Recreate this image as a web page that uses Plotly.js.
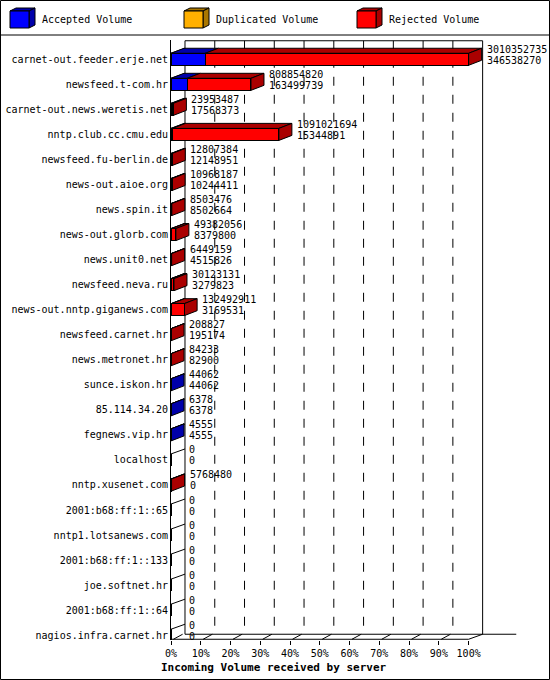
<!DOCTYPE html>
<html>
<head>
<meta charset="utf-8">
<script src="https://cdn.plot.ly/plotly-3.0.1.min.js"></script>
<style>body{margin:0;background:#fff}</style>
</head>
<body>
<div id="chart" style="width:550px;height:680px"></div>
<script>
// data
var servers = [
  'carnet-out.feeder.erje.net', 'newsfeed.t-com.hr', 'carnet-out.news.weretis.net',
  'nntp.club.cc.cmu.edu', 'newsfeed.fu-berlin.de', 'news-out.aioe.org', 'news.spin.it',
  'news-out.glorb.com', 'news.unit0.net', 'newsfeed.neva.ru', 'news-out.nntp.giganews.com',
  'newsfeed.carnet.hr', 'news.metronet.hr', 'sunce.iskon.hr', '85.114.34.20',
  'fegnews.vip.hr', 'localhost', 'nntp.xusenet.com', '2001:b68:ff:1::65',
  'nntp1.lotsanews.com', '2001:b68:ff:1::133', 'joe.softnet.hr', '2001:b68:ff:1::64',
  'nagios.infra.carnet.hr'
];
var totalVolume = [
  3010352735, 808854820, 23953487, 1091021694, 12807384, 10968187, 8503476,
  49382056, 6449159, 30123131, 132492911, 208827, 84233, 44062, 6378,
  4555, 0, 5768480, 0, 0, 0, 0, 0, 0
];
var acceptedVolume = [
  346538270, 163499739, 17568373, 15344891, 12148951, 10244411, 8502664,
  8379800, 4515826, 3279823, 3169531, 195174, 82900, 44062, 6378,
  4555, 0, 0, 0, 0, 0, 0, 0, 0
];
var duplicatedVolume = [
  0, 0, 0, 0, 0, 0, 0, 0, 0, 0, 0, 0, 0, 0, 0, 0, 0, 0, 0, 0, 0, 0, 0, 0
];
var tickPercents = [0, 10, 20, 30, 40, 50, 60, 70, 80, 90, 100];
var tickLabels = ['0%', '10%', '20%', '30%', '40%', '50%', '60%', '70%', '80%', '90%', '100%'];

// look
var FONT = 'DejaVu Sans Mono';
var colors = {
  acc: ['#0000FF', '#0000AA'],
  dup: ['#FFB000', '#AA7700'],
  rej: ['#FF0000', '#AA0000']
};
var BAR_HALF = 0.24;   // half of the front face height, in rows
var DX_BAR = 4.37;     // depth of a bar, in percent
var DX_WALL = 4.7;     // depth of the walls, in percent
var DY = 0.2;          // depth upward, in rows
var Y_TOP = -0.77, Y_BOT = 23.19, FLOOR = Y_BOT - 0.03;

var L = 171, T = 40, W = 378, H = 600;
function px(x) { return (x - L) / W; }
function py(y) { return (T + H - y) / H; }

var maxVolume = Math.max.apply(null, totalVolume);
function pct(v) { return v / maxVolume * 100; }
var rows = servers.map(function (s, i) { return i; });
var accPct = acceptedVolume.map(pct);
var dupPct = duplicatedVolume.map(pct);
var rejPct = totalVolume.map(function (t, i) {
  return pct(t - acceptedVolume[i] - duplicatedVolume[i]);
});

function bar(name, x, col) {
  return {
    type: 'bar', orientation: 'h', name: name, y: rows, x: x, width: 2 * BAR_HALF,
    marker: {color: col, line: {color: '#000', width: 1}},
    hoverinfo: 'skip'
  };
}
var traces = [
  bar('Accepted Volume', accPct, colors.acc[0]),
  bar('Duplicated Volume', dupPct, colors.dup[0]),
  bar('Rejected Volume', rejPct, colors.rej[0])
];

var shapes = [];
var blk = {color: '#000', width: 1};
function line(x0, y0, x1, y1, style) {
  shapes.push({type: 'line', xref: 'x', yref: 'y', x0: x0, y0: y0, x1: x1, y1: y1,
               line: style || blk, layer: 'below'});
}
function poly(pts, fill) {
  var d = 'M' + pts.map(function (p) { return p[0] + ',' + p[1]; }).join(' L') + ' Z';
  shapes.push({type: 'path', xref: 'x', yref: 'y', path: d, fillcolor: fill,
               line: blk, layer: 'below'});
}

// back wall, grid and floor
var backFloor = FLOOR - DY;
var wallTop = Y_TOP + 0.03;
tickPercents.slice(1, -1).forEach(function (t) {
  line(t + DX_WALL, wallTop, t + DX_WALL, backFloor, {color: '#000', width: 1, dash: 'dash'});
});
line(DX_WALL, wallTop, DX_WALL, backFloor);
line(100 + DX_WALL, wallTop, 100 + DX_WALL, backFloor);
line(DX_WALL, wallTop, 100 + DX_WALL, wallTop);
tickPercents.slice(0, -1).forEach(function (t) {
  line(t + 0.8, FLOOR, t + DX_WALL - 0.8, backFloor);
});
line(DX_WALL, backFloor, 116, backFloor);
line(0, FLOOR, 100, FLOOR);
line(100, FLOOR, 100 + DX_WALL, backFloor);

// left wall ticks
rows.forEach(function (i) {
  line(0, i - BAR_HALF, DX_WALL, i - BAR_HALF - DY);
});

// 3d faces of the bars
rows.forEach(function (i) {
  var tot = pct(totalVolume[i]);
  if (tot <= 0) return;
  var top = i - BAR_HALF, bot = i + BAR_HALF;
  var segs = [
    [0, accPct[i], colors.acc[1]],
    [accPct[i], accPct[i] + dupPct[i], colors.dup[1]],
    [accPct[i] + dupPct[i], tot, colors.rej[1]]
  ];
  var sideCol = colors.acc[1];
  segs.forEach(function (s) {
    if (s[1] - s[0] <= 0) return;
    sideCol = s[2];
    poly([[s[0], top], [s[1], top], [s[1] + DX_BAR, top - DY], [s[0] + DX_BAR, top - DY]], s[2]);
  });
  poly([[tot, bot], [tot, top], [tot + DX_BAR, top - DY], [tot + DX_BAR, bot - DY]], sideCol);
});

// labels next to the bars
var annotations = [];
var numFont = {family: FONT, size: 10, color: '#000'};
rows.forEach(function (i) {
  var x = pct(totalVolume[i]) + DX_BAR;
  annotations.push({x: x, y: i, xref: 'x', yref: 'y', text: String(totalVolume[i]),
    showarrow: false, xanchor: 'left', yanchor: 'middle', xshift: 3, yshift: 10, font: numFont});
  annotations.push({x: x, y: i, xref: 'x', yref: 'y', text: String(acceptedVolume[i]),
    showarrow: false, xanchor: 'left', yanchor: 'middle', xshift: 3, yshift: -1, font: numFont});
});

// legend box with little cubes
var legendItems = [
  ['Accepted Volume', colors.acc, 10],
  ['Duplicated Volume', colors.dup, 184],
  ['Rejected Volume', colors.rej, 357]
];
function paperPoly(pts, fill) {
  var d = 'M' + pts.map(function (p) { return px(p[0]) + ',' + py(p[1]); }).join(' L') + ' Z';
  shapes.push({type: 'path', xref: 'paper', yref: 'paper', path: d, fillcolor: fill,
               line: blk, layer: 'above'});
}
legendItems.forEach(function (it) {
  var x0 = it[2], x1 = x0 + 19, y0 = 11, y1 = 28;
  paperPoly([[x0, y0], [x1, y0], [x1 + 6, y0 - 3], [x0 + 6, y0 - 3]], it[1][1]);
  paperPoly([[x1, y0], [x1 + 6, y0 - 3], [x1 + 6, y1 - 3], [x1, y1]], it[1][1]);
  paperPoly([[x0, y0], [x1, y0], [x1, y1], [x0, y1]], it[1][0]);
  annotations.push({x: px(x0 + 30), y: py(20), xref: 'paper', yref: 'paper', text: it[0],
    showarrow: false, xanchor: 'left', yanchor: 'middle', font: numFont});
});
shapes.push({type: 'line', xref: 'paper', yref: 'paper', x0: px(0), x1: px(550),
             y0: py(35), y1: py(35), line: blk});
shapes.push({type: 'rect', xref: 'paper', yref: 'paper', x0: px(0.5), x1: px(549.5),
             y0: py(0.5), y1: py(679.5), line: blk});

annotations.push({x: px(274), y: py(667), xref: 'paper', yref: 'paper',
  text: '<b>Incoming Volume received by server</b>', showarrow: false,
  xanchor: 'center', yanchor: 'middle', font: {family: FONT, size: 11, color: '#000'}});

var layout = {
  width: 550, height: 680,
  margin: {l: L, r: 550 - L - W, t: T, b: 680 - T - H},
  barmode: 'stack', showlegend: false,
  paper_bgcolor: '#fff', plot_bgcolor: '#fff',
  font: {family: FONT, size: 10, color: '#000'},
  xaxis: {
    range: [0, 127], tickvals: tickPercents, ticktext: tickLabels,
    ticks: 'outside', ticklen: 4, tickcolor: '#000',
    showgrid: false, zeroline: false, showline: false,
    tickfont: {family: FONT, size: 10, color: '#000'}
  },
  yaxis: {
    range: [Y_BOT, Y_TOP], tickvals: rows, ticktext: servers,
    ticks: '', showgrid: false, zeroline: false,
    showline: true, linecolor: '#000', linewidth: 1,
    tickfont: {family: FONT, size: 10, color: '#000'}
  },
  shapes: shapes,
  annotations: annotations
};

Plotly.newPlot('chart', traces, layout, {staticPlot: true});
</script>
</body>
</html>
